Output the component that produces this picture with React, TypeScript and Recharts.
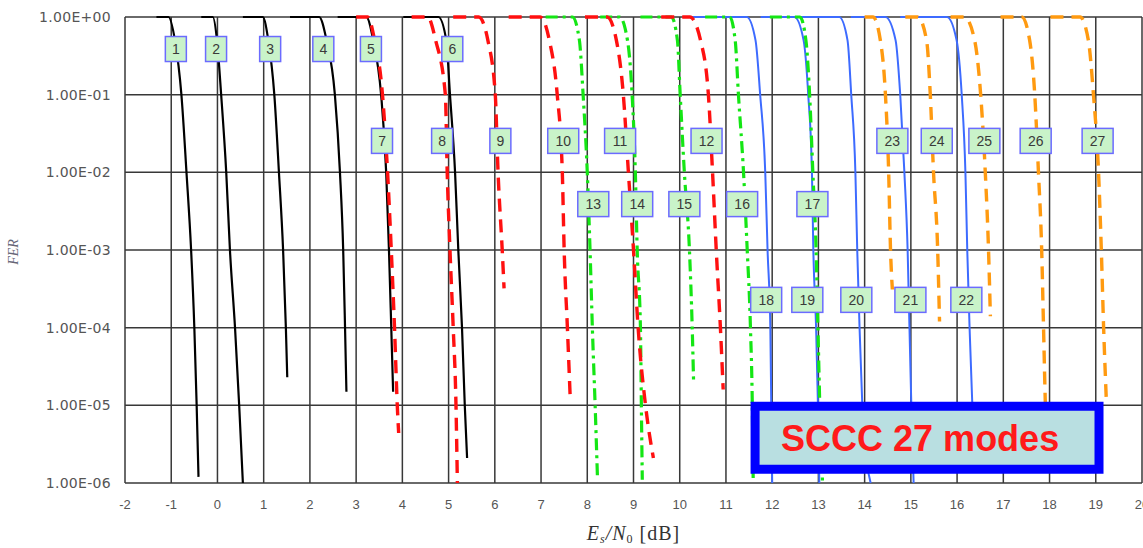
import {
  ComposedChart,
  Line,
  XAxis,
  YAxis,
  CartesianGrid,
  ReferenceDot,
  ReferenceArea,
} from "recharts"

type Pt = [number, number] // [Es/N0 dB, FER]

// black solid
const mode1: Pt[] = [[-1.32, 1], [-1.06, 1], [-0.92, 0.5], [-0.78, 0.1], [-0.67, 0.01], [-0.57, 1e-3], [-0.5, 1e-4], [-0.45, 1e-5], [-0.41, 1.2e-6]]
const mode2: Pt[] = [[-0.35, 1], [-0.1, 1], [-0.01, 0.5], [0.08, 0.1], [0.19, 0.01], [0.27, 1e-3], [0.38, 1e-4], [0.47, 1e-5], [0.55, 1e-6]]
const mode3: Pt[] = [[0.55, 1], [0.98, 1], [1.1, 0.5], [1.23, 0.1], [1.33, 0.01], [1.42, 1e-3], [1.48, 1e-4], [1.51, 2.3e-5]]
const mode4: Pt[] = [[1.57, 1], [2.2, 1], [2.36, 0.5], [2.54, 0.1], [2.65, 0.01], [2.72, 1e-3], [2.76, 1e-4], [2.79, 1.5e-5]]
const mode5: Pt[] = [[2.6, 1], [3.22, 1], [3.37, 0.5], [3.54, 0.1], [3.65, 0.01], [3.71, 1e-3], [3.76, 1e-4], [3.8, 1.5e-5]]
const mode6: Pt[] = [[4.02, 1], [4.78, 1], [4.95, 0.5], [5.03, 0.1], [5.14, 0.01], [5.21, 1e-3], [5.29, 1e-4], [5.35, 1e-5], [5.4, 2.1e-6]]
// red dashed
const mode7: Pt[] = [[3.0, 1], [3.25, 1], [3.4, 0.5], [3.57, 0.1], [3.68, 0.01], [3.76, 1e-3], [3.83, 1e-4], [3.89, 1e-5], [3.92, 4.4e-6]]
const mode8: Pt[] = [[4.2, 1], [4.55, 1], [4.72, 0.5], [4.93, 0.1], [4.97, 0.01], [5.03, 1e-3], [5.1, 1e-4], [5.16, 1e-5], [5.19, 1e-6]]
const mode9: Pt[] = [[5.1, 1], [5.65, 1], [5.85, 0.5], [6.01, 0.1], [6.07, 0.01], [6.16, 1e-3], [6.2, 3.2e-4]]
const mode10: Pt[] = [[6.3, 1], [6.98, 1], [7.18, 0.5], [7.35, 0.1], [7.46, 0.01], [7.5, 1e-3], [7.57, 1e-4], [7.63, 1.3e-5]]
const mode11: Pt[] = [[7.95, 1], [8.43, 1], [8.63, 0.5], [8.78, 0.1], [8.89, 0.01], [9.0, 1e-3], [9.1, 1e-4], [9.26, 1e-5], [9.43, 2.1e-6]]
const mode12: Pt[] = [[9.6, 1], [10.22, 1], [10.45, 0.5], [10.62, 0.1], [10.71, 0.01], [10.79, 1e-3], [10.88, 1e-4], [10.94, 1.6e-5]]
// green dash-dot
const mode13: Pt[] = [[7.1, 1], [7.68, 1], [7.83, 0.5], [7.91, 0.1], [8.0, 0.01], [8.06, 1e-3], [8.11, 1e-4], [8.17, 1e-5], [8.22, 1.2e-6]]
const mode14: Pt[] = [[8.28, 1], [8.7, 1], [8.87, 0.5], [8.97, 0.1], [9.04, 0.01], [9.08, 1e-3], [9.15, 1e-4], [9.17, 1e-5], [9.19, 1.1e-6]]
const mode15: Pt[] = [[9.15, 1], [9.82, 1], [9.95, 0.5], [10.01, 0.1], [10.1, 0.01], [10.21, 1e-3], [10.27, 1e-4], [10.3, 2e-5]]
const mode16: Pt[] = [[10.55, 1], [11.08, 1], [11.2, 0.5], [11.27, 0.1], [11.38, 0.01], [11.46, 1e-3], [11.53, 1e-4], [11.57, 1e-5], [11.59, 1e-6]]
const mode17: Pt[] = [[11.95, 1], [12.6, 1], [12.73, 0.5], [12.81, 0.1], [12.88, 0.01], [12.95, 1e-3], [12.99, 1e-4], [13.03, 1e-5], [13.09, 1e-6]]
// blue solid
const mode18: Pt[] = [[10.08, 1], [11.45, 1], [11.64, 0.5], [11.74, 0.1], [11.85, 0.01], [11.9, 1e-3], [11.96, 1e-4], [11.98, 1e-5], [12.0, 1e-6]]
const mode19: Pt[] = [[11.75, 1], [12.48, 1], [12.68, 0.5], [12.78, 0.1], [12.86, 0.01], [12.89, 1e-3], [12.95, 1e-4], [12.99, 1e-5], [13.02, 1e-6]]
const mode20: Pt[] = [[12.6, 1], [13.45, 1], [13.63, 0.5], [13.71, 0.1], [13.8, 0.01], [13.84, 1e-3], [13.89, 1e-4], [13.95, 1e-5], [14.04, 2e-6], [14.13, 1e-6]]
const mode21: Pt[] = [[13.7, 1], [14.45, 1], [14.67, 0.5], [14.77, 0.1], [14.86, 0.01], [14.93, 1e-3], [14.97, 1e-4], [15.01, 1e-5], [15.06, 1e-6]]
const mode22: Pt[] = [[14.77, 1], [15.78, 1], [15.99, 0.5], [16.1, 0.1], [16.18, 0.01], [16.22, 1e-3], [16.27, 1e-4], [16.33, 1e-5], [16.38, 2e-6]]
// orange dashed
const mode23: Pt[] = [[14.0, 1], [14.18, 1], [14.34, 0.5], [14.45, 0.1], [14.52, 0.01], [14.56, 1e-3], [14.6, 3.1e-4]]
const mode24: Pt[] = [[14.88, 1], [15.15, 1], [15.34, 0.5], [15.42, 0.1], [15.49, 0.01], [15.58, 1e-3], [15.62, 1.2e-4]]
const mode25: Pt[] = [[15.86, 1], [16.16, 1], [16.38, 0.5], [16.51, 0.1], [16.61, 0.01], [16.68, 1e-3], [16.72, 1.4e-4]]
const mode26: Pt[] = [[16.94, 1], [17.4, 1], [17.57, 0.5], [17.68, 0.1], [17.76, 0.01], [17.83, 1e-3], [17.87, 1e-4], [17.91, 1e-5], [17.94, 3e-6]]
const mode27: Pt[] = [[18.02, 1], [18.66, 1], [18.84, 0.5], [18.95, 0.1], [19.06, 0.01], [19.12, 1e-3], [19.17, 1e-4], [19.23, 1.1e-5]]

const xTicks = [-2, -1, 0, 1, 2, 3, 4, 5, 6, 7, 8, 9, 10, 11, 12, 13, 14, 15, 16, 17, 18, 19, 20]
const yTicks = [1e-6, 1e-5, 1e-4, 1e-3, 1e-2, 1e-1, 1]

// mode number tags
const tagNames = ["1", "2", "3", "4", "5", "6", "7", "8", "9", "10", "11", "12", "13", "14", "15", "16", "17", "18", "19", "20", "21", "22", "23", "24", "25", "26", "27"]
const tagX = [-0.9, -0.03, 1.14, 2.29, 3.32, 5.08, 3.56, 4.86, 6.12, 7.48, 8.71, 10.58, 8.13, 9.08, 10.1, 11.35, 12.87, 11.87, 12.76, 13.82, 14.99, 16.2, 14.6, 15.56, 16.59, 17.7, 19.04]
const tagFer = [0.387, 0.387, 0.387, 0.387, 0.387, 0.387, 0.0254, 0.0254, 0.0254, 0.0254, 0.0254, 0.0254, 0.0039, 0.0039, 0.0039, 0.0039, 0.0039, 2.28e-4, 2.28e-4, 2.28e-4, 2.28e-4, 2.28e-4, 0.0254, 0.0254, 0.0254, 0.0254, 0.0254]

const blackModes = [mode1, mode2, mode3, mode4, mode5, mode6]
const redModes = [mode7, mode8, mode9, mode10, mode11, mode12]
const greenModes = [mode13, mode14, mode15, mode16, mode17]
const blueModes = [mode18, mode19, mode20, mode21, mode22]
const orangeModes = [mode23, mode24, mode25, mode26, mode27]

const toRows = (m: Pt[]) => m.map(([x, fer]) => ({ x, fer }))

const fmtFer = (v: number) => {
  const e = Math.round(Math.log10(v))
  return `1.00E${e < 0 ? "-" : "+"}${String(Math.abs(e)).padStart(2, "0")}`
}

function ModeTag({ cx, cy, name }: { cx: number; cy: number; name: string }) {
  const w = name.length > 1 ? 31 : 21
  return (
    <g>
      <rect x={cx - w / 2} y={cy - 12.5} width={w} height={25} fill="#c9f3c9" stroke="#6b6bff" strokeWidth={1.5} />
      <text x={cx} y={cy + 5} textAnchor="middle" fontSize={14} fill="#3a3a3a" fontFamily="Liberation Sans, Arial, sans-serif">
        {name}
      </text>
    </g>
  )
}

function XLabel({ viewBox }: any) {
  const { x, y, width } = viewBox
  return (
    <text x={x + width / 2} y={y + 57} textAnchor="middle" fontFamily="Liberation Serif, serif" fontSize={20} fill="#333" letterSpacing={1}>
      <tspan fontStyle="italic">E</tspan>
      <tspan fontSize={12} dy={3} fontStyle="italic">s</tspan>
      <tspan dy={-3} fontStyle="italic">/N</tspan>
      <tspan fontSize={12} dy={3}>0</tspan>
      <tspan dy={-3}> [dB]</tspan>
    </text>
  )
}

function YLabel({ viewBox }: any) {
  const cx = viewBox.x + 18
  const cy = viewBox.y + viewBox.height / 2 + 2
  return (
    <text x={cx} y={cy} transform={`rotate(-90 ${cx} ${cy})`} textAnchor="middle" fontFamily="Liberation Serif, serif" fontStyle="italic" fontSize={14} fill="#667">
      FER
    </text>
  )
}

function Banner({ viewBox }: any) {
  const { x, y, height } = viewBox
  return (
    <text x={x + 26} y={y + height / 2 + 13} fontFamily="Liberation Sans, Arial, sans-serif" fontWeight="bold" fontSize={36} fill="#ff1a1a">
      SCCC 27 modes
    </text>
  )
}

export default function App() {
  return (
    <div style={{ position: "absolute", left: 0, top: 0, background: "#fff" }}>
      <ComposedChart width={1143} height={548} margin={{ top: 17, right: 1, bottom: 0, left: 0 }}>
        <CartesianGrid stroke="#383838" strokeWidth={1.5} />
        <XAxis
          dataKey="x"
          type="number"
          domain={[-2, 20]}
          ticks={xTicks}
          interval={0}
          height={65}
          axisLine={false}
          tickLine={false}
          tickSize={6}
          tickMargin={11}
          tick={{ fontSize: 13, fill: "#555", fontFamily: "Liberation Sans, Arial, sans-serif" }}
          label={<XLabel />}
        />
        <YAxis
          dataKey="fer"
          type="number"
          scale="log"
          domain={[1e-6, 1]}
          ticks={yTicks}
          interval={0}
          width={125}
          axisLine={false}
          tickLine={false}
          tickSize={6}
          tickMargin={8}
          tickFormatter={fmtFer}
          tick={{ fontSize: 14, fill: "#555", fontFamily: "DejaVu Sans, sans-serif", letterSpacing: 0.3 }}
          label={<YLabel />}
        />
        {blackModes.map((m, i) => (
          <Line key={`k${i}`} data={toRows(m)} dataKey="fer" type="monotone" stroke="#000" strokeWidth={2.2} dot={false} isAnimationActive={false} />
        ))}
        {blueModes.map((m, i) => (
          <Line key={`b${i}`} data={toRows(m)} dataKey="fer" type="monotone" stroke="#3d6bff" strokeWidth={2} dot={false} isAnimationActive={false} />
        ))}
        {greenModes.map((m, i) => (
          <Line key={`g${i}`} data={toRows(m)} dataKey="fer" type="monotone" stroke="#14e614" strokeWidth={3.2} strokeDasharray="12 5 3 5" dot={false} isAnimationActive={false} />
        ))}
        {redModes.map((m, i) => (
          <Line key={`r${i}`} data={toRows(m)} dataKey="fer" type="monotone" stroke="#ff1010" strokeWidth={3.4} strokeDasharray="13 8" dot={false} isAnimationActive={false} />
        ))}
        {orangeModes.map((m, i) => (
          <Line key={`o${i}`} data={toRows(m)} dataKey="fer" type="monotone" stroke="#ff9a10" strokeWidth={3.4} strokeDasharray="13 8" dot={false} isAnimationActive={false} />
        ))}
        {tagNames.map((name, i) => (
          <ReferenceDot
            key={`t${name}`}
            x={tagX[i]}
            y={tagFer[i]}
            zIndex={1100}
            shape={(p: any) => <ModeTag cx={p.cx} cy={p.cy} name={name} />}
          />
        ))}
        <ReferenceArea
          x1={11.63}
          x2={19.07}
          y1={1.5e-6}
          y2={9.7e-6}
          zIndex={1000}
          fill="#b9dfe1"
          fillOpacity={1}
          stroke="#0000ff"
          strokeWidth={9}
          label={<Banner />}
        />
      </ComposedChart>
    </div>
  )
}
